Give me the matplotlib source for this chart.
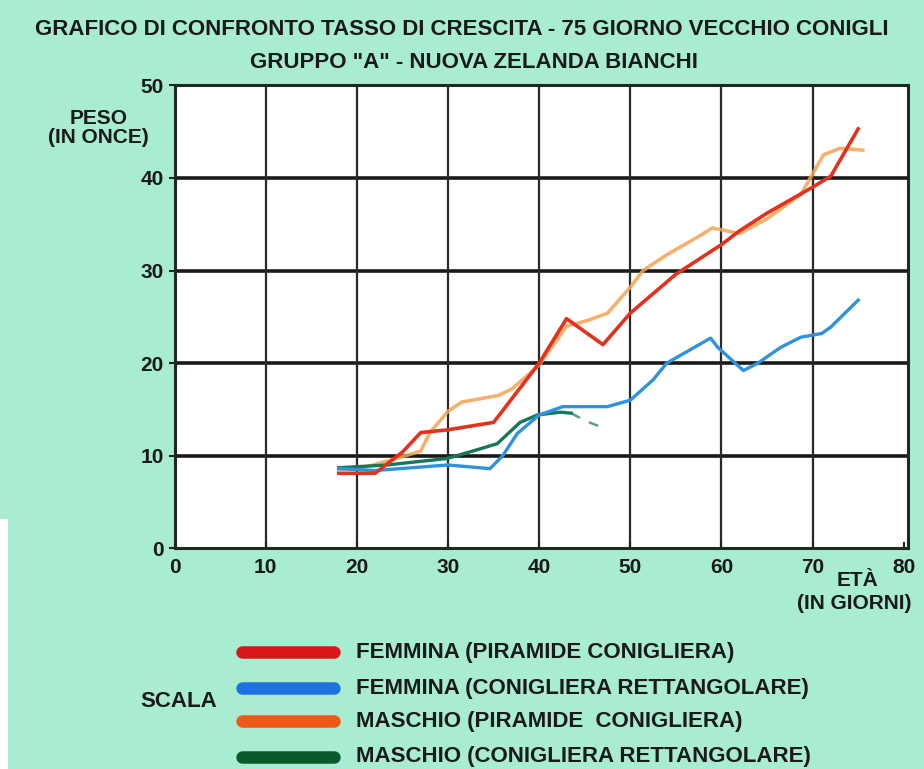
import numpy as np
import matplotlib
matplotlib.use("Agg")
import matplotlib.pyplot as plt
from matplotlib.lines import Line2D
from matplotlib.patches import Rectangle

plt.rcParams['font.family'] = ['Liberation Sans', 'DejaVu Sans']

# dati (giorni, peso in once)
giorni_fp = [18, 22, 25, 27, 30, 35, 40, 43, 47, 50, 55, 60, 62, 65, 70, 72, 75]
peso_fp = [8.1, 8.1, 10.4, 12.5, 12.8, 13.6, 20.0, 24.8, 22.0, 25.4, 29.6, 32.8, 34.3, 36.2, 39.0, 40.2, 45.3]

giorni_fr = [18, 22, 30, 34.6, 36, 37.6, 40, 42.6, 47.5, 50, 52.5, 54, 58.8, 59.6, 62.4, 64, 66.5, 68.7, 71, 72, 75]
peso_fr = [8.6, 8.4, 9.0, 8.6, 10.0, 12.4, 14.4, 15.3, 15.3, 16.0, 18.2, 20.0, 22.7, 21.7, 19.2, 20.0, 21.7, 22.8, 23.2, 23.9, 26.8]

giorni_mp = [18, 21, 24, 27, 28, 30, 31.5, 35.5, 37, 40, 43, 45.3, 47.5, 50, 51.4, 54, 57.7, 59, 62, 65, 68.7, 71.2, 73, 75.5]
peso_mp = [8.5, 8.8, 9.6, 10.5, 12.5, 14.8, 15.8, 16.5, 17.2, 19.8, 24.0, 24.6, 25.4, 28.2, 30.0, 31.7, 33.8, 34.6, 34.0, 35.6, 38.2, 42.5, 43.2, 43.0]

giorni_mr = [18, 23.3, 29.9, 32.7, 35.4, 37.9, 39.8, 42.3, 43.5]
peso_mr = [8.7, 9.0, 9.7, 10.5, 11.3, 13.6, 14.4, 14.7, 14.6]
giorni_mr_tratt = [43.5, 45, 47.3]
peso_mr_tratt = [14.6, 13.8, 12.9]

etichette = ["FEMMINA (PIRAMIDE CONIGLIERA)",
             "FEMMINA (CONIGLIERA RETTANGOLARE)",
             "MASCHIO (PIRAMIDE  CONIGLIERA)",
             "MASCHIO (CONIGLIERA RETTANGOLARE)"]
col_linee = ["#e2321e", "#2f92e0", "#f5a552", "#16785a"]
col_leg = ["#d81818", "#1f72e0", "#f0581a", "#0b5a2c"]

sfondo = "#a8ecd2"
fig = plt.figure(figsize=(9.24, 7.69), dpi=100, facecolor=sfondo)
fig.patches.append(Rectangle((0, 0), 0.009, 0.325, transform=fig.transFigure,
                             facecolor="white", edgecolor="none", zorder=0))

ax = fig.add_axes([0.189, 0.287, 0.794, 0.602])
ax.set_facecolor("white")
ax.set_xlim(0, 80.5)
ax.set_ylim(0, 50)
ax.set_xticks(range(0, 90, 10))
ax.set_yticks(range(0, 60, 10))

for y in range(10, 50, 10):
    ax.axhline(y, color="#1a1a1a", lw=2.6, zorder=1)
for x in range(10, 80, 10):
    ax.axvline(x, color="#2a2a2a", lw=1.6, zorder=1)
for s in ax.spines.values():
    s.set_color("#1d2a22")
    s.set_linewidth(2.2)

ax.plot(giorni_mp, peso_mp, color=col_linee[2], lw=2.6, alpha=0.85, zorder=3)
ax.plot(giorni_mr, peso_mr, color=col_linee[3], lw=2.4, zorder=3)
ax.plot(giorni_mr_tratt, peso_mr_tratt, color=col_linee[3], lw=1.8, ls=(0, (4, 4)), alpha=0.7, zorder=3)
ax.plot(giorni_fr, peso_fr, color=col_linee[1], lw=2.4, zorder=4)
ax.plot(giorni_fp, peso_fp, color=col_linee[0], lw=2.6, zorder=5)

ax.tick_params(axis="y", length=4, width=1.5, color="#222222", pad=4, labelsize=15)
ax.tick_params(axis="x", length=4, width=1.5, color="#222222", direction="in", pad=7, labelsize=15)
for t in ax.get_yticklabels() + ax.get_xticklabels():
    t.set_fontweight("bold")
    t.set_color("#1a1a1a")

fig.text(0.5, 0.962, "GRAFICO DI CONFRONTO TASSO DI CRESCITA - 75 GIORNO VECCHIO CONIGLI",
         ha="center", va="center", fontsize=16, fontweight="bold", color="#1a1a1a")
fig.text(0.513, 0.919, 'GRUPPO "A" - NUOVA ZELANDA BIANCHI',
         ha="center", va="center", fontsize=16, fontweight="bold", color="#1a1a1a")

fig.text(0.107, 0.834, "PESO\n(IN ONCE)", ha="center", va="center", fontsize=15,
         fontweight="bold", color="#1a1a1a", linespacing=1.0)
fig.text(0.928, 0.245, "ETÀ", ha="center", va="center", fontsize=15,
         fontweight="bold", color="#1a1a1a")
fig.text(0.925, 0.215, "(IN GIORNI)", ha="center", va="center", fontsize=15,
         fontweight="bold", color="#1a1a1a")

ys = [0.152, 0.105, 0.062, 0.016]
for lab, c, yy in zip(etichette, col_leg, ys):
    fig.add_artist(Line2D([0.262, 0.362], [yy, yy], transform=fig.transFigure,
                          color=c, lw=9, solid_capstyle="round"))
    fig.text(0.385, yy, lab, ha="left", va="center", fontsize=16, fontweight="bold",
             color="#1a1a1a")
fig.text(0.152, 0.088, "SCALA", ha="left", va="center", fontsize=16, fontweight="bold",
         color="#1a1a1a")

fig.savefig("out.png", dpi=100, facecolor=sfondo)
